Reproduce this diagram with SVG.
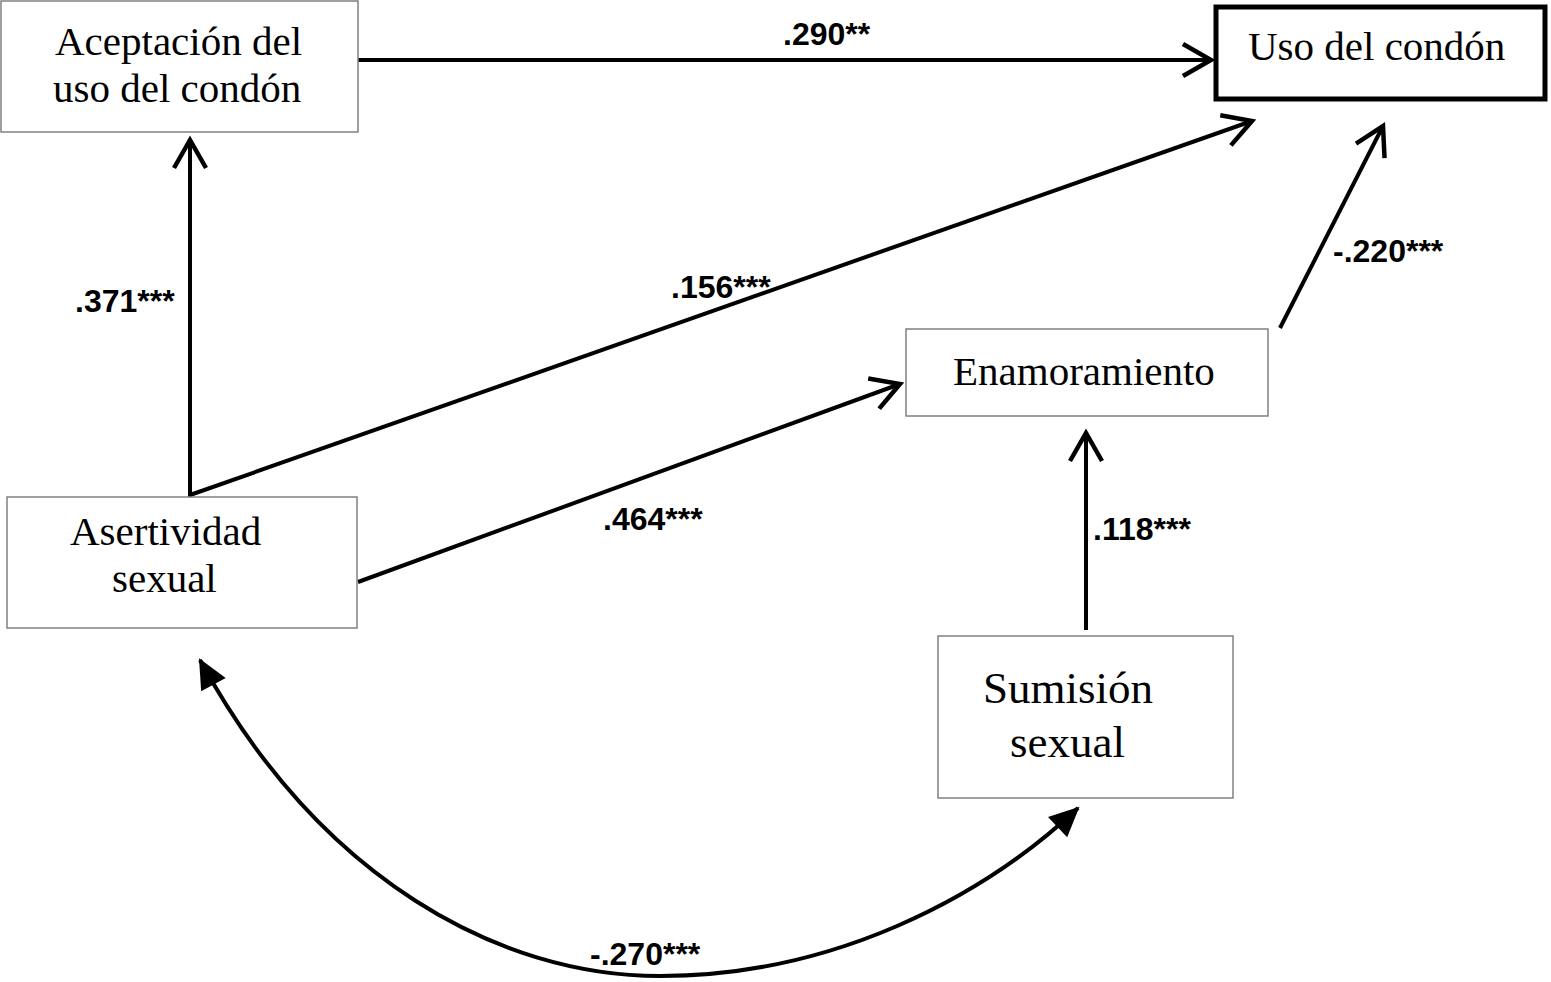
<svg xmlns="http://www.w3.org/2000/svg" width="1551" height="982" viewBox="0 0 1551 982">
<style>
.box{fill:#fff;stroke:#808080;stroke-width:1.5}
.main{fill:#fff;stroke:#000;stroke-width:5}
.nt{font-family:"Liberation Serif","Times New Roman",serif;font-size:41px;fill:#000}
.lb{font-family:"Liberation Sans",Arial,sans-serif;font-size:32px;font-weight:bold;fill:#000}
.ln{fill:none;stroke:#000;stroke-width:4}
</style>
<defs>
<marker id="open" markerUnits="userSpaceOnUse" viewBox="-34 -22 40 44" markerWidth="40" markerHeight="44" refX="0" refY="0" orient="auto">
<path d="M -28,-16 L 0,0 L -28,16" fill="none" stroke="#000" stroke-width="4.5" stroke-linejoin="miter"/>
</marker>
<marker id="solid" markerUnits="userSpaceOnUse" viewBox="-34 -22 40 44" markerWidth="40" markerHeight="44" refX="0" refY="0" orient="auto-start-reverse">
<path d="M -28,-14 L 2,0 L -28,14 Z" fill="#000"/>
</marker>
</defs>
<rect width="1551" height="982" fill="#fff"/>
<g id="connectors">
<line class="ln" x1="358" y1="60" x2="1211" y2="60" marker-end="url(#open)"/>
<line class="ln" x1="190" y1="497" x2="190" y2="140" marker-end="url(#open)"/>
<line class="ln" x1="190" y1="495" x2="1252" y2="121" marker-end="url(#open)"/>
<line class="ln" x1="358" y1="582" x2="900" y2="384" marker-end="url(#open)"/>
<line class="ln" x1="1280" y1="328" x2="1383" y2="126" marker-end="url(#open)"/>
<line class="ln" x1="1086" y1="630" x2="1086" y2="433" marker-end="url(#open)"/>
<path class="ln" d="M 200,660 C 320,880 500,976 660,976 C 830,976 980,900 1078,808" marker-start="url(#solid)" marker-end="url(#solid)"/>
<text class="lb" x="783" y="45">.290**</text>
<text class="lb" x="75" y="312">.371***</text>
<text class="lb" x="671" y="298">.156***</text>
<text class="lb" x="603" y="530">.464***</text>
<text class="lb" x="1093" y="540">.118***</text>
<text class="lb" x="1333" y="262">-.220***</text>
<text class="lb" x="590" y="965">-.270***</text>
</g>
<g id="aceptacion">
<rect class="box" x="1" y="1" width="357" height="131"/>
<text class="nt" x="55" y="55">Aceptación del</text>
<text class="nt" x="53" y="102">uso del condón</text>
</g>
<g id="uso">
<rect class="main" x="1216" y="7" width="329" height="92"/>
<text class="nt" x="1248" y="60">Uso del condón</text>
</g>
<g id="asertividad">
<rect class="box" x="7" y="497" width="350" height="131"/>
<text class="nt" x="70" y="545">Asertividad</text>
<text class="nt" x="112" y="592">sexual</text>
</g>
<g id="enamoramiento">
<rect class="box" x="906" y="329" width="362" height="87"/>
<text class="nt" x="953" y="385">Enamoramiento</text>
</g>
<g id="sumision">
<rect class="box" x="938" y="636" width="295" height="162"/>
<text class="nt" x="983" y="703" style="font-size:45px">Sumisión</text>
<text class="nt" x="1010" y="757" style="font-size:45px">sexual</text>
</g>
</svg>
